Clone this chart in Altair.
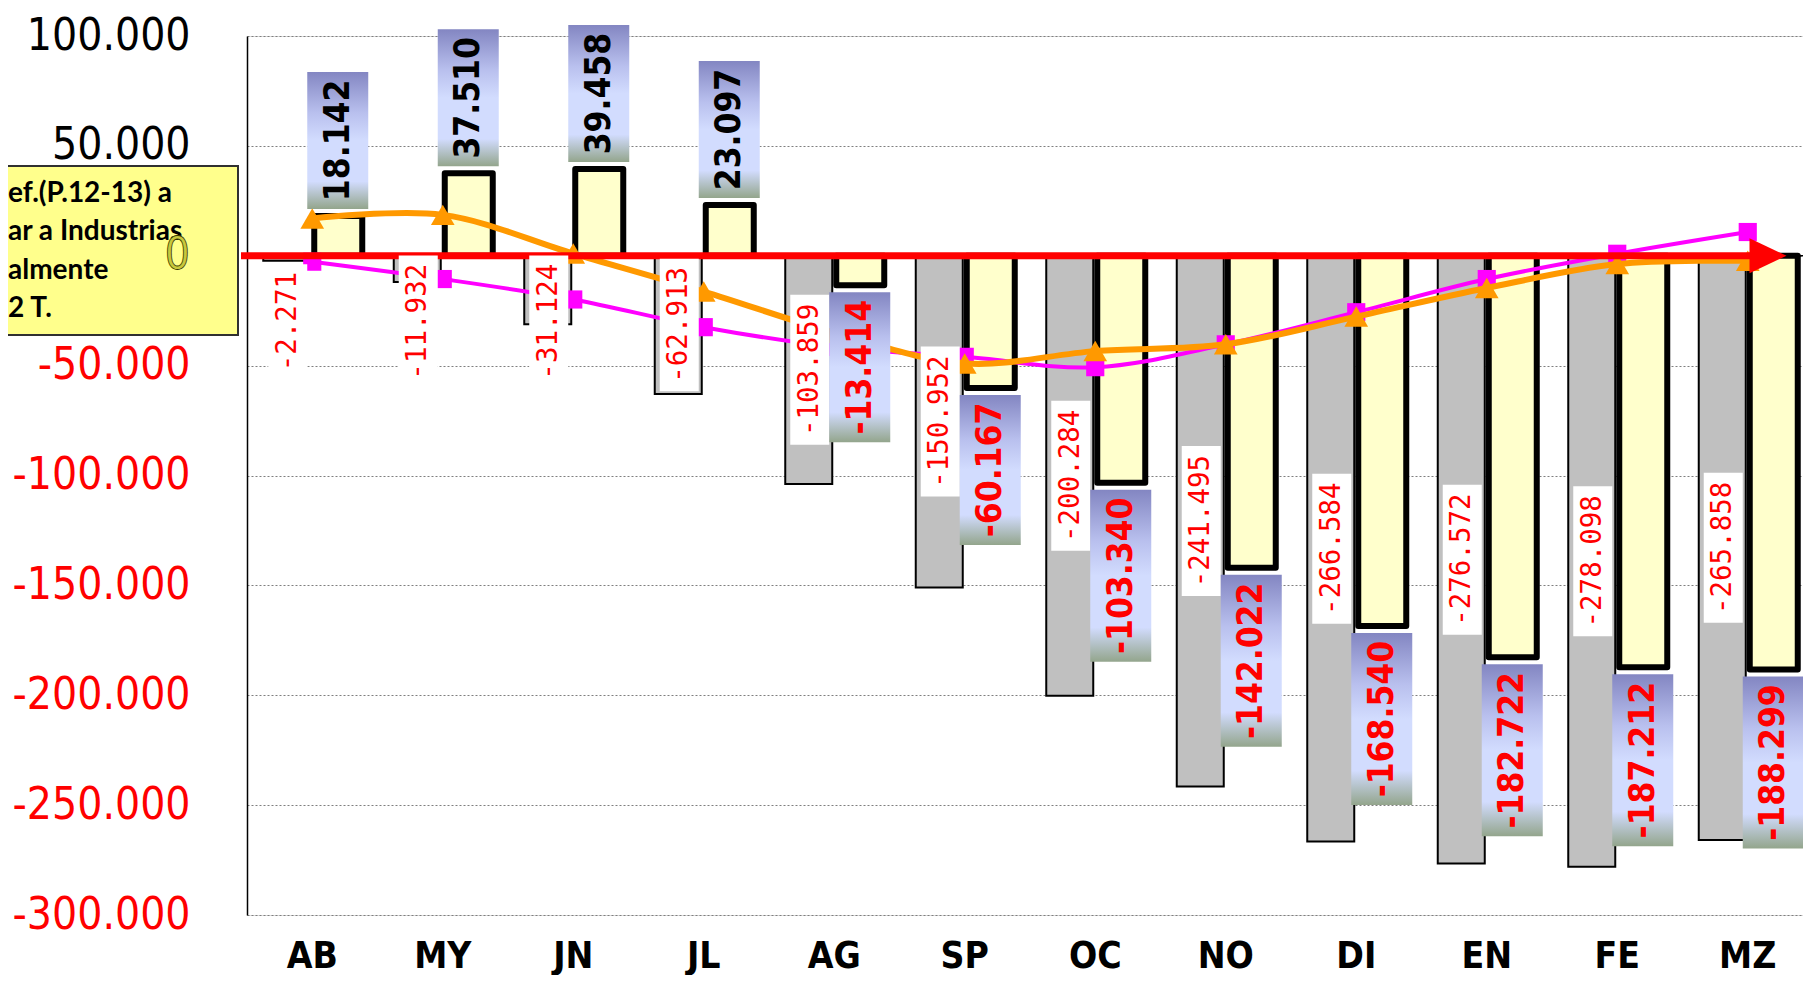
import altair as alt
import pandas as pd

# ---------------- data ----------------
meses = ["AB", "MY", "JN", "JL", "AG", "SP", "OC", "NO", "DI", "EN", "FE", "MZ"]
acumulado = [-2271, -11932, -31124, -62913, -103859, -150952, -200284, -241495,
             -266584, -276572, -278098, -265858]
mensual = [18142, 37510, 39458, 23097, -13414, -60167, -103340, -142022,
           -168540, -182722, -187212, -188299]
linea_rosa = [-2700, -10600, -19900, -32500, -41500, -46000, -50700, -40300,
              -25700, -10600, 900, 10800]
linea_naranja = [17000, 18600, 1000, -16300, -35000, -49000, -43400, -40300,
                 -27700, -14700, -3800, -2300]
nota = ["ef.(P.12-13) a", "ar a Industrias", "almente", "2 T."]
y_ticks = [100000, 50000, 0, -50000, -100000, -150000, -200000, -250000, -300000]

# ---------------- layout ----------------
W, H = 1566, 879
U = 400000 / H  # data units per pixel

SANS = "'DejaVu Sans Condensed', 'Liberation Sans Narrow', 'DejaVu Sans'"
MONO = "'DejaVu Sans Mono', 'Liberation Mono'"

df = pd.DataFrame({"mes": meses, "acum": acumulado, "mens": mensual,
                   "rosa": linea_rosa, "naranja": linea_naranja})
one = pd.DataFrame({"k": [0]})

yscale = alt.Scale(domain=[-300000, 100000], nice=False, zero=False)

xenc = alt.X(
    "mes:N", sort=meses, title=None,
    scale=alt.Scale(paddingInner=0, paddingOuter=0),
    axis=alt.Axis(labelFont=SANS, labelFontSize=37, labelFontWeight="bold",
                  labelColor="black", labelAngle=0, ticks=False, tickSize=0,
                  domain=False, grid=False, labelPadding=52,
                  labelBaseline="alphabetic"),
)

yaxis = alt.Axis(
    values=y_ticks, format=",.0f", title=None,
    labelFont=SANS, labelFontSize=44,
    labelExpr="datum.value == 0 ? '' : datum.label",
    labelColor={"condition": {"test": "datum.value < 0", "value": "#FF0000"},
                "value": "#000000"},
    labelPadding=57, ticks=False, tickSize=0,
    domain=True, domainColor="black", domainWidth=1.5,
    grid=True, gridColor="#7f7f7f", gridDash=[2, 2], gridWidth=1,
)

base = alt.Chart(df)

zero_rule = alt.Chart(one).mark_rule(color="black", strokeWidth=1.5).encode(
    y=alt.datum(0, scale=yscale))

gray_bars = base.mark_bar(width=47, xOffset=-25.5, color="#C0C0C0",
                          stroke="black", strokeWidth=2).encode(
    x=xenc, y=alt.Y("acum:Q", scale=yscale, axis=yaxis), y2=alt.datum(0))

yellow_bars = base.mark_bar(width=48, xOffset=26, fill="#FFFFCC",
                            stroke="black", strokeWidth=6,
                            strokeJoin="round").encode(
    x=xenc, y=alt.Y("mens:Q", scale=yscale), y2=alt.datum(0))

rosa_line = base.mark_line(color="#FF00FF", strokeWidth=4,
                           interpolate="catmull-rom").encode(
    x=xenc, y=alt.Y("rosa:Q", scale=yscale))
rosa_pts = base.mark_point(shape="square", filled=True, size=330,
                           color="#FF00FF", opacity=1).encode(
    x=xenc, y=alt.Y("rosa:Q", scale=yscale))

nar_line = base.mark_line(color="#FF9900", strokeWidth=6,
                          interpolate="catmull-rom").encode(
    x=xenc, y=alt.Y("naranja:Q", scale=yscale))
nar_pts = base.mark_point(shape="triangle-up", filled=True, size=560,
                          color="#FF9900", opacity=1).encode(
    x=xenc, y=alt.Y("naranja:Q", scale=yscale))

red_rule = alt.Chart(one).mark_rule(color="#FF0000", strokeWidth=7).encode(
    x=alt.value(-6), x2=alt.value(1505), y=alt.datum(0, scale=yscale))
red_head = alt.Chart(one).mark_point(
    shape="M-1,-0.95L1,0L-1,0.95Z", size=1369, filled=True,
    color="#FF0000", opacity=1).encode(
    x=alt.value(1521), y=alt.datum(0, scale=yscale))

# labels of the grey series (white boxes, red mono text)
gl = base.transform_calculate(
    txt="format(datum.acum, ',.0f')"
).transform_calculate(
    c="min(datum.acum / 2, -30000)",
    L="17.5 * length(datum.txt) + 10",
).transform_calculate(
    b1=f"datum.c - datum.L / 2 * {U}",
    b2=f"datum.c + datum.L / 2 * {U}",
)
gl_box = gl.mark_bar(width=39, xOffset=-24.5, color="white").encode(
    x=xenc, y=alt.Y("b1:Q", scale=yscale), y2="b2:Q")
gl_txt = gl.mark_text(angle=270, xOffset=-24.5, font=MONO, fontSize=27.5,
                      color="#FF0000", align="center", baseline="middle").encode(
    x=xenc, y=alt.Y("c:Q", scale=yscale), text="txt:N")

# labels of the yellow series (gradient boxes, bold text)
grad = alt.LinearGradient(
    gradient="linear",
    stops=[alt.GradientStop(color="#8386C2", offset=0),
           alt.GradientStop(color="#B9C0EE", offset=0.3),
           alt.GradientStop(color="#D2DCFE", offset=0.5),
           alt.GradientStop(color="#D2DCFE", offset=0.8),
           alt.GradientStop(color="#93A58C", offset=1)],
    x1=0, x2=0, y1=0, y2=1,
)
yl = base.transform_calculate(
    txt="format(datum.mens, ',.0f')",
    s="datum.mens >= 0 ? 1 : -1",
).transform_calculate(
    L="22 * length(datum.txt) - 10 - (datum.mens < 0 ? 9 : 0) + 15",
).transform_calculate(
    b1=f"datum.mens + datum.s * 7 * {U}",
    b2=f"datum.mens + datum.s * (7 + datum.L) * {U}",
).transform_calculate(
    bc="(datum.b1 + datum.b2) / 2"
)
yl_box = yl.mark_bar(width=61, xOffset=25.5, fill=grad).encode(
    x=xenc, y=alt.Y("b1:Q", scale=yscale), y2="b2:Q")
yl_txt = yl.mark_text(angle=270, xOffset=25.5, font=SANS, fontSize=35,
                      fontWeight="bold", align="center",
                      baseline="middle").encode(
    x=xenc, y=alt.Y("bc:Q", scale=yscale), text="txt:N",
    color=alt.condition("datum.mens < 0", alt.value("#FF0000"),
                        alt.value("#000000")))

# annotation box on the left
note_box = alt.Chart(one).mark_rect(fill="#FFFF8C", stroke="#303030",
                                    strokeWidth=2).encode(
    x=alt.value(-260), x2=alt.value(-9), y=alt.value(130), y2=alt.value(299))
note_txt = alt.Chart(one).mark_text(
    font="Lato", fontSize=28, fontWeight="bold", color="black",
    align="left", baseline="alphabetic", lineHeight=38.3).encode(
    x=alt.value(-239), y=alt.value(166), text=alt.value(nota))

zero_lbl = alt.Chart(one).mark_text(
    text="0", font=SANS, fontSize=44, fill="#C8C83C", stroke="#3a3a00",
    strokeWidth=0.8, align="right", baseline="middle").encode(
    x=alt.value(-57), y=alt.datum(0, scale=yscale))

chart = alt.layer(
    zero_rule, gray_bars, yellow_bars, rosa_line, rosa_pts, nar_line, nar_pts,
    red_rule, red_head, gl_box, gl_txt, yl_box, yl_txt,
    note_box, note_txt, zero_lbl,
).properties(
    width=W, height=H,
    padding={"left": 239, "top": 28, "right": -10, "bottom": 60},
    autosize=alt.AutoSizeParams(type="none"),
).configure_view(
    strokeWidth=0
).configure(
    locale={"number": {"decimal": ",", "thousands": ".", "grouping": [3],
                       "currency": ["", ""], "minus": "-"}}
)

chart.save("out.html", embed_options={"renderer": "svg", "actions": False})
